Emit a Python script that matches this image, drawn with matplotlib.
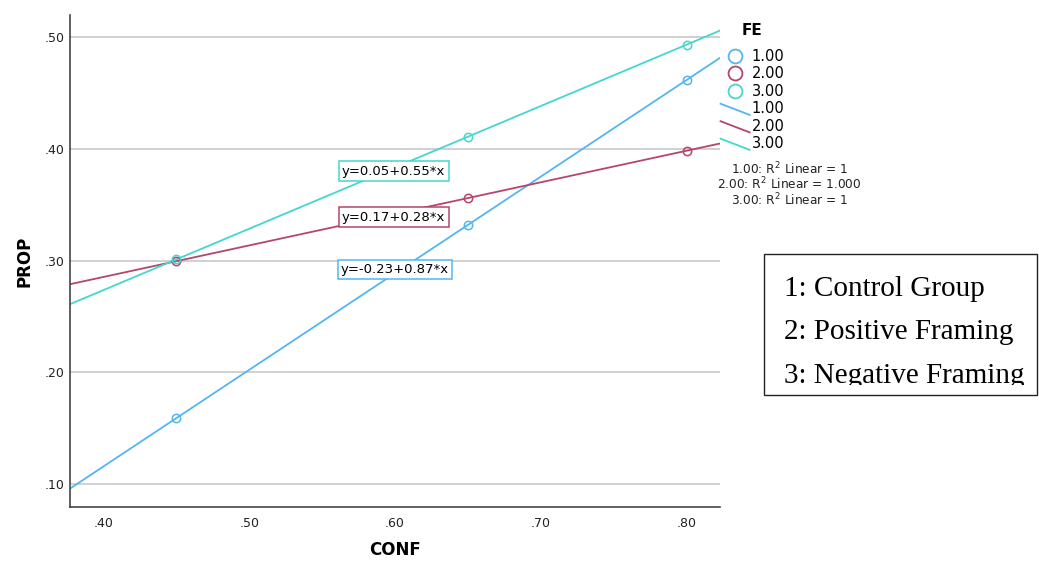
import matplotlib
matplotlib.use("Agg")
import matplotlib.pyplot as plt
import numpy as np
from matplotlib.lines import Line2D
from matplotlib.patches import Rectangle
from matplotlib.legend_handler import HandlerBase

plt.rcParams['font.family'] = ['DejaVu Sans']

# data
conf = [0.45, 0.65, 0.80]
prop_g1 = [0.1587, 0.3319, 0.4618]
prop_g2 = [0.2994, 0.3560, 0.3984]
prop_g3 = [0.3010, 0.4110, 0.4935]
group_names = ["1.00", "2.00", "3.00"]
r2_labels = ["1", "1.000", "1"]
note_lines = ["1: Control Group", "2: Positive Framing", "3: Negative Framing"]

colors = ['#52b6f2', '#b5456d', '#45d6d0']
series = [prop_g1, prop_g2, prop_g3]
# where each fit label box sits (x, y in data units)
label_pos = [(0.600, 0.292), (0.599, 0.339), (0.599, 0.380)]


class DiagLine(HandlerBase):
    # legend line drawn as a short downward slant, like SPSS does
    def create_artists(self, legend, orig_handle, xdescent, ydescent,
                       width, height, fontsize, trans):
        ln = Line2D([-xdescent, width - xdescent],
                    [height * 0.95 - ydescent, -0.15 * height - ydescent],
                    color=orig_handle.get_color(), lw=orig_handle.get_linewidth(),
                    transform=trans)
        return [ln]


fig = plt.figure(figsize=(10.39, 5.61), dpi=100)
ax = fig.add_axes([0.0674, 0.0963, 0.6256, 0.8767])

xmin, xmax = 0.377, 0.823
ax.set_xlim(xmin, xmax)
ax.set_ylim(0.079, 0.520)

xs = np.array([xmin, xmax])
for ys, c, pos in zip(series, colors, label_pos):
    m, b = np.polyfit(conf, ys, 1)
    ax.plot(xs, b + m * xs, color=c, lw=1.3, zorder=2)
    ax.plot(conf, ys, 'o', mfc='none', mec=c, ms=6, mew=1.1, zorder=3)
    ax.text(pos[0], pos[1], f"y={b:.2f}+{m:.2f}*x", fontsize=9.5,
            ha='center', va='center', zorder=4,
            bbox=dict(boxstyle='square,pad=0.25', fc='white', ec=c, lw=1.1))

ax.set_xticks([0.40, 0.50, 0.60, 0.70, 0.80])
ax.set_xticklabels(['.40', '.50', '.60', '.70', '.80'])
ax.set_yticks([0.10, 0.20, 0.30, 0.40, 0.50])
ax.set_yticklabels(['.10', '.20', '.30', '.40', '.50'])
ax.tick_params(length=0, labelsize=9, colors='#222222')
ax.tick_params(axis='x', pad=7)
ax.tick_params(axis='y', pad=4)
ax.yaxis.grid(True, color='#c8c8c8', lw=1.2)
ax.set_axisbelow(True)
for s in ['top', 'right']:
    ax.spines[s].set_visible(False)
for s in ['left', 'bottom']:
    ax.spines[s].set_color('#444444')
    ax.spines[s].set_linewidth(1.2)

ax.set_xlabel('CONF', fontsize=12, fontweight='bold', labelpad=8)
ax.set_ylabel('PROP', fontsize=12, fontweight='bold', labelpad=8)

# legend
fig.text(0.7142, 0.9465, 'FE', fontsize=11, fontweight='bold', ha='left', va='center')
pt_handles = [Line2D([], [], ls='none', marker='o', mfc='none', mec=c, ms=10, mew=1.3)
              for c in colors]
ln_handles = [Line2D([], [], color=c, lw=1.3) for c in colors]
handler_map = {h: DiagLine() for h in ln_handles}
leg = fig.legend(pt_handles + ln_handles, group_names + group_names,
                 loc='upper left', bbox_to_anchor=(0.6935, 0.9127),
                 frameon=False, fontsize=10.5, handlelength=2.0,
                 handletextpad=0.15, labelspacing=0.17, borderpad=0.0,
                 borderaxespad=0.0, handler_map=handler_map)

for i, (g, r) in enumerate(zip(group_names, r2_labels)):
    fig.text(0.760, 0.6988 - i * 0.0276, f"{g}: R$^2$ Linear = {r}",
             fontsize=8.7, ha='center', va='center', color='#222222')

# note box
box = Rectangle((0.735, 0.296), 0.263, 0.252, transform=fig.transFigure,
                fill=False, ec='#222222', lw=1.0)
fig.patches.append(box)
clip = Rectangle((0.735, 0.3137), 0.263, 0.234, transform=fig.transFigure)
for i, (t, yb) in enumerate(zip(note_lines, [0.4724, 0.3957, 0.3173])):
    txt = fig.text(0.755, yb, t, fontsize=21, family='Liberation Serif',
                   ha='left', va='baseline', color='black')
    txt.set_clip_path(clip)

fig.savefig('out.png', dpi=100)
